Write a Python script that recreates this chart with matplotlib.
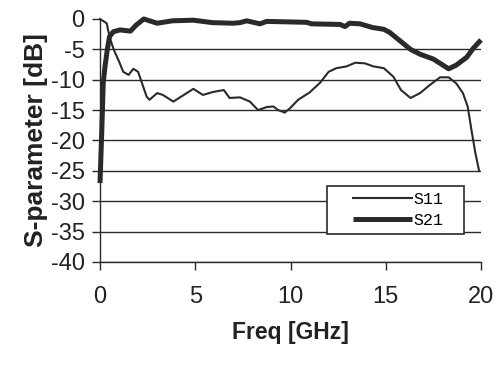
import matplotlib
matplotlib.use('Agg')
import matplotlib.pyplot as plt
from matplotlib.lines import Line2D
from matplotlib.legend_handler import HandlerLine2D

# S11 (thin line)
freqS11 = [0.0, 0.35, 0.52, 0.73, 1.0, 1.22, 1.5, 1.75, 2.0, 2.45, 2.6, 3.0, 3.3,
           3.85, 4.4, 4.9, 5.4, 5.95, 6.5, 6.8, 7.35, 7.87, 8.3, 8.75, 9.1, 9.36,
           9.7, 9.97, 10.4, 11.0, 11.55, 12.0, 12.4, 12.95, 13.4, 13.9, 14.35,
           14.9, 15.4, 15.8, 16.3, 16.8, 17.3, 17.85, 18.3, 18.7, 19.05, 19.3,
           19.5, 19.7, 19.9]
s11 = [0.0, -0.7, -3.2, -5.1, -7.0, -8.7, -9.2, -8.2, -8.7, -12.8, -13.3, -12.2,
       -12.5, -13.6, -12.5, -11.5, -12.5, -12.0, -11.7, -13.0, -12.9, -13.6,
       -15.0, -14.5, -14.4, -15.0, -15.4, -14.7, -13.3, -12.1, -10.5, -8.7,
       -8.1, -7.8, -7.2, -7.3, -7.8, -8.1, -9.5, -11.7, -13.0, -12.2, -10.9,
       -9.6, -9.6, -10.6, -12.2, -14.4, -18.3, -22.0, -25.0]

# S21 (thick line)
freqS21 = [0.0, 0.09, 0.17, 0.26, 0.38, 0.5, 0.7, 1.05, 1.6, 1.9, 2.3, 3.0, 3.8,
           4.9, 5.9, 7.0, 7.35, 7.7, 8.4, 8.75, 10.85, 11.1, 12.6, 12.86, 13.1,
           13.65, 14.3, 14.9, 15.2, 15.75, 16.3, 16.8, 17.5, 17.85, 18.3, 18.7,
           19.25, 19.6, 20.0]
s21 = [-27.0, -18.8, -10.5, -7.9, -5.1, -2.9, -2.1, -1.8, -2.0, -1.0, 0.0, -0.7,
       -0.3, -0.2, -0.6, -0.7, -0.6, -0.3, -0.8, -0.4, -0.55, -0.8, -0.9, -1.25,
       -0.7, -0.8, -1.4, -1.7, -2.2, -3.6, -5.0, -5.8, -6.6, -7.3, -8.2, -7.6,
       -6.3, -4.8, -3.45]

xTicks = [0, 5, 10, 15, 20]
yTicks = [-40, -35, -30, -25, -20, -15, -10, -5, 0]
lineColor = '#2a2a2a'


def generatePlot(figName):
    plt.rcParams['font.family'] = ['Liberation Sans', 'DejaVu Sans']
    fig = plt.figure(figsize=(5.01, 3.70), dpi=100)
    ax = fig.add_axes([0.1996, 0.2919, 0.7605, 0.6568])

    ax.plot(freqS11, s11, color=lineColor, lw=1.5, label='S11', clip_on=False)
    ax.plot(freqS21, s21, color=lineColor, lw=3.6, label='S21', clip_on=False,
            solid_capstyle='butt')

    ax.set_xlim(0, 20)
    ax.set_ylim(-40, 0)
    ax.set_xticks(xTicks)
    ax.set_yticks(yTicks)
    ax.set_xticklabels([str(t) for t in xTicks])
    ax.set_yticklabels([str(t) for t in yTicks])

    for s in ['top', 'right']:
        ax.spines[s].set_visible(False)
    for s in ['left', 'bottom']:
        ax.spines[s].set_color(lineColor)
        ax.spines[s].set_linewidth(1.0)

    ax.yaxis.grid(True, color=lineColor, lw=1.0)
    ax.yaxis.get_gridlines()[-1].set_visible(False)
    ax.set_axisbelow(True)

    ax.tick_params(axis='x', direction='out', length=6, width=1.0,
                   color=lineColor, pad=11, labelsize=17, labelcolor='#222222')
    ax.tick_params(axis='y', direction='out', length=6, width=1.0,
                   color=lineColor, pad=5, labelsize=17, labelcolor='#222222')

    ax.set_xlabel('Freq [GHz]', fontsize=16.5, fontweight='bold', color='#222222',
                  labelpad=10)
    ax.set_ylabel('S-parameter [dB]', fontsize=19, fontweight='bold',
                  color='#222222', labelpad=2)

    leg = ax.legend(loc='lower left', bbox_to_anchor=(0.596, 0.115, 0.359, 0.21),
                    mode='expand', prop={'family': 'Liberation Mono', 'size': 12},
                    handlelength=4.75, handletextpad=0.05, labelspacing=0.4,
                    borderpad=0.35, borderaxespad=0, fancybox=False,
                    framealpha=1, edgecolor=lineColor,
                    handler_map={Line2D: HandlerLine2D(xpad=1.2)})
    leg.get_frame().set_linewidth(1.2)
    leg.set_zorder(5)

    fig.savefig(figName, dpi=100)


if __name__ == "__main__":
    generatePlot('out.png')
